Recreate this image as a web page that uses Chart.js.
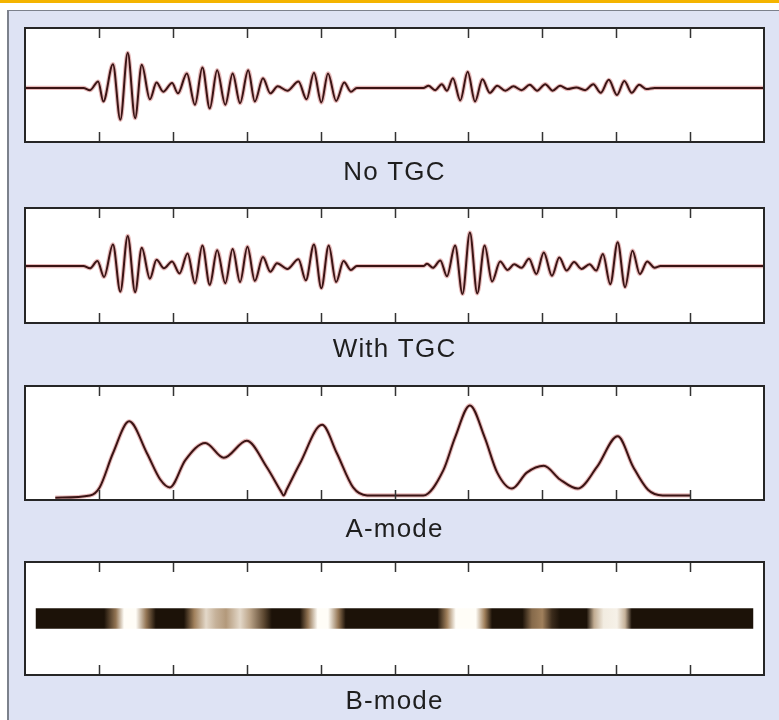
<!DOCTYPE html>
<html>
<head>
<meta charset="utf-8">
<title>TGC, A-mode and B-mode</title>
<script src="https://cdn.jsdelivr.net/npm/chart.js@4.4.1/dist/chart.umd.min.js"></script>
<style>
  html, body { margin: 0; padding: 0; background: #fff; }
  body { width: 779px; height: 720px; position: relative; overflow: hidden; }
  #rule { position: absolute; left: 0; top: 0; width: 779px; height: 3px; background: #f4b400; }
  #frame { position: absolute; left: 7px; top: 10px; width: 772px; height: 710px; background: #dee3f4;
           border-left: 2px solid #7c818c; border-top: 1px solid #7c818c; box-sizing: border-box; }
  .panel { position: absolute; left: 0; width: 779px; }
</style>
</head>
<body>
<div id="rule"></div>
<div id="frame"></div>
<div class="panel" id="p1"><canvas id="noTgcChart"></canvas></div>
<div class="panel" id="p2"><canvas id="withTgcChart"></canvas></div>
<div class="panel" id="p3"><canvas id="aModeChart"></canvas></div>
<div class="panel" id="p4"><canvas id="bModeChart"></canvas></div>
<script>
// Data (x in depth units 0..10)
const xTicks = [1, 2, 3, 4, 5, 6, 7, 8, 9];
const panelTitles = ["No TGC", "With TGC", "A-mode", "B-mode"];

// echo signal without gain compensation: peaks and troughs
const noTgcX = [0, 0.79, 0.88, 0.99, 1.06, 1.19, 1.29, 1.39, 1.49, 1.58, 1.69, 1.78, 1.87, 1.99, 2.07,
  2.19, 2.30, 2.40, 2.50, 2.60, 2.71, 2.81, 2.91, 3.02, 3.11, 3.22, 3.32, 3.42, 3.55, 3.70, 3.81,
  3.91, 4.01, 4.10, 4.21, 4.32, 4.41, 4.49, 5.39, 5.46, 5.55, 5.64, 5.71, 5.79, 5.89, 5.99, 6.09,
  6.19, 6.29, 6.39, 6.50, 6.61, 6.72, 6.83, 6.93, 7.04, 7.14, 7.24, 7.34, 7.46, 7.58, 7.69, 7.79,
  7.90, 8.01, 8.11, 8.21, 8.31, 8.41, 8.52, 10];
const noTgcY = [0, 0, -0.04, 0.12, -0.25, 0.44, -0.59, 0.65, -0.56, 0.43, -0.21, 0.10, -0.07, 0.09, -0.10,
  0.27, -0.31, 0.38, -0.38, 0.33, -0.31, 0.27, -0.28, 0.33, -0.25, 0.18, -0.10, 0.03, -0.05, 0.12, -0.21,
  0.28, -0.27, 0.27, -0.24, 0.10, -0.07, 0, 0, 0.04, -0.04, 0.07, -0.05, 0.18, -0.23, 0.30, -0.25,
  0.16, -0.09, 0.04, -0.05, 0.03, -0.04, 0.06, -0.05, 0.07, -0.05, 0.04, -0.02, 0.01, -0.04, 0.07, -0.09,
  0.15, -0.13, 0.13, -0.09, 0.06, -0.02, 0, 0];

// echo signal with time gain compensation
const withTgcX = [0, 0.79, 0.88, 0.98, 1.07, 1.19, 1.29, 1.39, 1.49, 1.58, 1.69, 1.78, 1.88, 1.99, 2.09,
  2.20, 2.30, 2.40, 2.50, 2.60, 2.71, 2.81, 2.91, 3.01, 3.11, 3.22, 3.32, 3.41, 3.55, 3.70, 3.80,
  3.91, 4.01, 4.11, 4.21, 4.31, 4.41, 4.49, 5.39, 5.44, 5.52, 5.62, 5.71, 5.82, 5.92, 6.02, 6.12,
  6.22, 6.32, 6.43, 6.53, 6.62, 6.72, 6.82, 6.92, 7.02, 7.13, 7.23, 7.33, 7.43, 7.53, 7.64, 7.73,
  7.82, 7.92, 8.02, 8.12, 8.22, 8.32, 8.42, 8.52, 8.60, 10];
const withTgcY = [0, 0, -0.04, 0.09, -0.19, 0.38, -0.45, 0.53, -0.46, 0.32, -0.22, 0.11, -0.04, 0.08, -0.13,
  0.22, -0.30, 0.36, -0.33, 0.28, -0.30, 0.30, -0.28, 0.34, -0.26, 0.16, -0.10, 0.05, -0.05, 0.12, -0.25,
  0.38, -0.39, 0.36, -0.28, 0.09, -0.07, 0, 0, 0.04, -0.03, 0.10, -0.18, 0.36, -0.49, 0.59, -0.48,
  0.36, -0.27, 0.08, -0.07, 0.03, -0.03, 0.13, -0.14, 0.24, -0.17, 0.15, -0.08, 0.07, -0.05, 0.03, -0.08,
  0.21, -0.32, 0.42, -0.37, 0.27, -0.14, 0.08, -0.03, 0, 0];

// A-mode envelope (0 = baseline, 1 = top of panel)
const aModeX = [0.41, 0.88, 1.01, 1.19, 1.41, 1.65, 1.83, 1.96, 2.17, 2.44, 2.69, 3.00, 3.27, 3.46, 3.50,
  3.54, 3.72, 4.02, 4.22, 4.44, 4.63, 4.94, 5.39, 5.66, 5.82, 6.02, 6.22, 6.39, 6.59, 6.79, 7.02,
  7.24, 7.48, 7.74, 8.02, 8.23, 8.43, 8.63, 9.00];
const aModeY = [0.02, 0.04, 0.11, 0.41, 0.69, 0.41, 0.18, 0.11, 0.35, 0.50, 0.37, 0.52, 0.29, 0.08, 0.04,
  0.09, 0.32, 0.66, 0.41, 0.11, 0.04, 0.04, 0.04, 0.26, 0.55, 0.83, 0.55, 0.24, 0.10, 0.24, 0.30,
  0.18, 0.10, 0.29, 0.56, 0.29, 0.09, 0.04, 0.04];

// B-mode brightness along the line (0 = dark, 1 = white)
const bModeX = [0.15, 1.07, 1.23, 1.34, 1.50, 1.64, 1.77, 2.15, 2.29, 2.45, 2.58, 2.72, 2.91, 3.04, 3.23,
  3.34, 3.72, 3.83, 3.96, 4.10, 4.24, 4.34, 5.58, 5.71, 5.83, 6.10, 6.22, 6.32, 6.73, 6.86, 7.00,
  7.13, 7.24, 7.60, 7.70, 7.83, 8.01, 8.12, 8.21, 9.85];
const bModeLevel = [0, 0, 0.45, 1, 1, 0.45, 0, 0, 0.5, 0.85, 0.7, 0.6, 0.85, 0.65, 0.25,
  0, 0, 0.45, 1, 1, 0.45, 0, 0, 0.5, 1, 1, 0.5, 0, 0, 0.4, 0.5,
  0.12, 0, 0, 0.67, 0.93, 0.95, 0.7, 0, 0];

// Layout of the four panels (box top, box height, gap to caption)
const panelLayout = [
  { wrap: "p1", top: 28, boxH: 114, gap: 15 },
  { wrap: "p2", top: 208, boxH: 115, gap: 11 },
  { wrap: "p3", top: 386, boxH: 114, gap: 14 },
  { wrap: "p4", top: 562, boxH: 113, gap: 11 }
];
const PAD_TOP = 18;
const TITLE_SIZE = 26;

panelLayout.forEach(p => {
  const el = document.getElementById(p.wrap);
  el.style.top = (p.top - PAD_TOP) + "px";
  el.style.height = (PAD_TOP + p.boxH + p.gap + TITLE_SIZE * 1.2) + "px";
});

// white plot area, frame and inward tick marks
const panelFrame = {
  id: "panelFrame",
  beforeDraw(chart) {
    const { ctx, chartArea: a } = chart;
    ctx.save();
    ctx.fillStyle = "#ffffff";
    ctx.fillRect(a.left, a.top, a.right - a.left, a.bottom - a.top);
    ctx.restore();
    ctx.letterSpacing = "1.2px"; // captions are set slightly wide
  },
  afterDraw(chart) {
    const { ctx, chartArea: a, scales: { x } } = chart;
    ctx.save();
    ctx.strokeStyle = "#333333";
    ctx.lineWidth = 1.5;
    xTicks.forEach(v => {
      const px = Math.round(x.getPixelForValue(v)) + 0.5;
      ctx.beginPath();
      ctx.moveTo(px, a.top);
      ctx.lineTo(px, a.top + 10);
      ctx.moveTo(px, a.bottom);
      ctx.lineTo(px, a.bottom - 10);
      ctx.stroke();
    });
    ctx.strokeStyle = "#262626";
    ctx.lineWidth = 2;
    ctx.strokeRect(a.left, a.top, a.right - a.left, a.bottom - a.top);
    ctx.restore();
  }
};

function toPoints(xs, ys) {
  return xs.map((x, i) => ({ x: x, y: ys[i] }));
}

function baseOptions(index, yMin, yMax) {
  return {
    responsive: true,
    maintainAspectRatio: false,
    animation: false,
    layout: { padding: { top: PAD_TOP, left: 25, right: 15, bottom: 0 } },
    scales: {
      x: { type: "linear", min: 0, max: 10, display: false },
      y: { type: "linear", min: yMin, max: yMax, display: false }
    },
    plugins: {
      legend: { display: false },
      tooltip: { enabled: false },
      title: {
        display: true,
        position: "bottom",
        text: panelTitles[index],
        color: "#1e1e1e",
        font: { family: "'Liberation Sans', Arial, sans-serif", size: TITLE_SIZE, weight: "normal" },
        padding: { top: panelLayout[index].gap, bottom: 0 }
      }
    }
  };
}

function traceDatasets(points) {
  return [
    { data: points, borderColor: "#3a1414", borderWidth: 2, pointRadius: 0,
      cubicInterpolationMode: "monotone", fill: false },
    { data: points, borderColor: "rgba(195, 85, 85, 0.4)", borderWidth: 4.2, pointRadius: 0,
      cubicInterpolationMode: "monotone", fill: false }
  ];
}

new Chart(document.getElementById("noTgcChart"), {
  type: "line",
  data: { datasets: traceDatasets(toPoints(noTgcX, noTgcY)) },
  options: baseOptions(0, -1.0, 1.11),
  plugins: [panelFrame]
});

new Chart(document.getElementById("withTgcChart"), {
  type: "line",
  data: { datasets: traceDatasets(toPoints(withTgcX, withTgcY)) },
  options: baseOptions(1, -1.0, 1.02),
  plugins: [panelFrame]
});

new Chart(document.getElementById("aModeChart"), {
  type: "line",
  data: { datasets: traceDatasets(toPoints(aModeX, aModeY)) },
  options: baseOptions(2, 0, 1),
  plugins: [panelFrame]
});

// brightness -> colour (dark brown-black through tan to white)
const shadeStops = [[0, [28, 18, 8]], [0.5, [160, 128, 92]], [1, [255, 253, 247]]];
function shade(level) {
  for (let i = 1; i < shadeStops.length; i++) {
    const [l1, c1] = shadeStops[i];
    const [l0, c0] = shadeStops[i - 1];
    if (level <= l1) {
      const t = (level - l0) / (l1 - l0);
      const c = c0.map((v, k) => Math.round(v + (c1[k] - v) * t));
      return `rgb(${c[0]}, ${c[1]}, ${c[2]})`;
    }
  }
  return "rgb(255, 253, 247)";
}

function bModeFill(context) {
  const chart = context.chart;
  const x = chart.scales.x;
  if (!chart.chartArea || !x) return shade(0);
  const first = bModeX[0];
  const last = bModeX[bModeX.length - 1];
  const g = chart.ctx.createLinearGradient(x.getPixelForValue(first), 0, x.getPixelForValue(last), 0);
  bModeX.forEach((v, i) => g.addColorStop((v - first) / (last - first), shade(bModeLevel[i])));
  return g;
}

const bOptions = baseOptions(3, 0, 1);
bOptions.indexAxis = "y";
bOptions.scales = {
  x: { type: "linear", min: 0, max: 10, display: false },
  y: { type: "category", display: false }
};

new Chart(document.getElementById("bModeChart"), {
  type: "bar",
  data: {
    labels: ["echo"],
    datasets: [{
      data: [[bModeX[0], bModeX[bModeX.length - 1]]],
      backgroundColor: bModeFill,
      borderWidth: 0,
      barThickness: 20
    }]
  },
  options: bOptions,
  plugins: [panelFrame]
});
</script>
</body>
</html>
